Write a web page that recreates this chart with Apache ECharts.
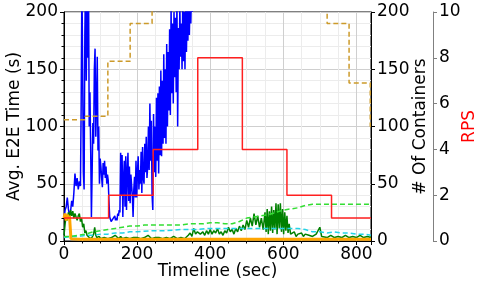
<!DOCTYPE html>
<html><head><meta charset="utf-8">
<script src="https://cdn.jsdelivr.net/npm/echarts@6/dist/echarts.min.js"></script>
<style>html,body{margin:0;padding:0;background:#fff}#c{width:486px;height:290px}</style>
</head><body><div id="c"></div>
<script>
// ---- data ----
const xTicks = [0, 200, 400, 600, 800];
const rpsTime = [0, 122, 244, 366, 488, 610, 732, 840];
const rpsVals = [1, 2, 4, 8, 4, 2, 1, 1];
const contTime = [0, 58, 120, 181, 241, 720, 780, 838, 840];
const contVals = [106, 109, 157, 190, 240, 190, 138, 100, 100];
const blueTime = [0,3,6,9,12,15,18,21,24,27,30,33,36,39,42,45,47,49,51,53,55,57,59,61,63,65,67,69,71,73,75,77,79,81,83,85,87,89,91,93,95,97,99,101,103,105,107,109,111,113,115,117,119,121,123,125,127,129,131,133,135,137,139,141,143,145,147,149,151,153,155,157,159,161,163,165,167,169,171,173,175,177,179,181,183,185,187,189,191,193,195,197,199,201,203,205,207,209,211,213,215,217,219,221,223,225,227,229,231,233,235,237,239,241,243,245,247,249,251,253,255,257,259,261,263,265,267,269,271,273,275,277,279,281,283,285,287,289,291,293,295,297,299,301,303,305,307,309,311,313,315,317,319,321,323,325,327,329,331,333,335,337,339,341,343,345,347,349,351,353,355];
const blueVals = [20,27,30,38,28,22,26,35,30,42,59,48,55,45,52,48,120,230,150,60,45,180,230,140,230,160,230,100,130,80,21,60,103,85,150,168,91,120,161,79,100,50,72,65,55,47,68,58,70,55,65,50,58,53,35,21,19,17,18,16,20,19,22,18,20,18,24,22,27,25,77,40,75,21,55,70,30,74,27,60,77,35,65,33,58,59,40,21,45,56,38,70,38,60,74,45,62,50,78,42,82,55,50,85,60,91,55,65,100,62,120,70,105,40,27,111,60,100,56,125,70,129,59,135,75,149,74,140,85,163,90,150,85,172,100,165,114,185,110,205,129,190,120,200,143,195,130,210,100,186,150,205,161,190,150,210,157,200,150,215,165,205,175,220,180,215,190,225,200,230,240];
const greenTime = [0,3,6,9,12,15,18,21,24,27,30,33,36,39,42,45,48,51,54,57,60,63,66,69,72,75,78,81,84,87,90,93,96,100,110,120,130,140,150,155,160,170,180,190,200,210,220,230,240,250,260,270,280,290,300,310,320,330,340,345,350,355,360,365,373,380,385,390,395,400,405,410,415,420,425,430,435,440,445,450,455,460,465,470,475,480,485,490,495,500,505,510,515,520,525,530,535,540,545,550,553,556,559,562,565,568,571,574,577,580,583,586,589,592,595,598,601,604,607,610,613,616,620,625,630,635,640,645,650,655,660,670,680,690,700,705,710,720,730,740,750,760,770,780,790,800,810,820,830,840];
const greenVals = [5,15,22,18,25,20,27,22,26,20,24,25,18,22,24,17,20,12,15,7,9,5,4,3,4,2,3,6,12,5,3,2,4,2,3,2,3,5,2,4,2,3,2,3,3,2,3,5,2,3,3,2,3,2,4,2,3,2,5,7,4,11,6,8,6,8,5,9,6,10,6,9,7,11,6,8,5,9,7,12,8,10,6,11,8,13,9,14,10,18,12,20,13,24,14,22,12,20,10,25,8,28,6,26,9,30,7,27,10,33,6,32,11,33,8,28,6,25,9,22,7,15,6,5,8,4,6,5,7,4,6,5,4,6,12,4,5,3,5,3,4,3,5,3,4,3,5,3,4,3];
const orangeTime = [0,3,6,9,12,15,18,19,40,100,200,300,400,500,600,700,800,840];
const orangeVals = [20,24,18,23,20,22,21,2,1.5,1.5,1.5,1.5,1.5,1.5,1.5,1.5,1.5,1.5];
const limeTime = [0,20,40,60,80,100,120,140,160,180,200,220,240,260,280,300,320,340,360,380,400,420,440,460,480,500,520,540,560,580,600,620,640,660,680,700,720,740,760,780,800,820,840];
const limeVals = [4,4,5,6,8,9,10,11,12,13,13,14,14,14,14,14,14,15,15,15,16,16,15,15,17,20,21,22,23,25,27,28,29,31,32,32,32,32,32,32,32,32,32];
const cyanTime = [0,20,40,60,80,100,120,140,160,180,200,240,280,320,360,400,440,480,520,560,600,640,660,680,700,720,740,760,780,800,820,840];
const cyanVals = [3,4,4,5,5,6,6,7,7,8,8,9,9,10,10,11,11,11,11,11,11,11,10,8,8,7,8,7,7,6,6,5];

const zip = (a, b) => a.map((t, i) => [t, b[i]]);
const FONT = 'DejaVu Sans';
const chart = echarts.init(document.getElementById('c'));
const tickStyle = {color: '#000', width: 1};
chart.setOption({
  animation: false,
  grid: {left: 64, right: 115, top: 12, bottom: 49, containLabel: false, outerBoundsMode: 'none',
    show: true, borderColor: '#000', borderWidth: 1, backgroundColor: 'transparent'},
  xAxis: {
    type: 'value', min: 0, max: 840, interval: 200,
    name: 'Timeline (sec)', nameLocation: 'middle', nameGap: 22, nameMoveOverlap: false,
    nameTextStyle: {fontFamily: FONT, fontSize: 17, color: '#000'},
    axisLine: {show: true, lineStyle: {color: '#000'}},
    axisTick: {show: true, length: 4, lineStyle: tickStyle},
    minorTick: {show: true, splitNumber: 4, length: 2.5, lineStyle: {color: '#000'}},
    axisLabel: {fontFamily: FONT, fontSize: 17, color: '#000', margin: 5, showMaxLabel: false,
      formatter: v => xTicks.includes(v) ? String(v) : ''},
    splitLine: {show: true, lineStyle: {color: '#cfcfcf', width: 1}},
    minorSplitLine: {show: true, lineStyle: {color: '#ececec', width: 1}}
  },
  yAxis: [
    {
      type: 'value', min: 0, max: 200, interval: 50, position: 'left',
      name: 'Avg. E2E Time (s)', nameLocation: 'middle', nameGap: 41, nameRotate: 90, nameMoveOverlap: false,
      nameTextStyle: {fontFamily: FONT, fontSize: 17, color: '#000'},
      axisLine: {show: true, lineStyle: {color: '#000'}},
      axisTick: {show: true, length: 4, lineStyle: tickStyle},
      minorTick: {show: true, splitNumber: 5, length: 2.5, lineStyle: {color: '#000'}},
      axisLabel: {fontFamily: FONT, fontSize: 17, color: '#000', margin: 6},
      splitLine: {show: true, lineStyle: {color: '#cfcfcf', width: 1}},
      minorSplitLine: {show: true, lineStyle: {color: '#ececec', width: 1}}
    },
    {
      type: 'value', min: 0, max: 200, interval: 50, position: 'right',
      name: '# Of Containers', nameLocation: 'middle', nameGap: 41, nameRotate: 90, nameMoveOverlap: false,
      nameTextStyle: {fontFamily: FONT, fontSize: 17, color: '#000'},
      axisLine: {show: true, lineStyle: {color: '#000'}},
      axisTick: {show: true, length: 4, lineStyle: tickStyle},
      axisLabel: {fontFamily: FONT, fontSize: 17, color: '#000', margin: 6},
      splitLine: {show: false}
    },
    {
      type: 'value', min: 0, max: 10, interval: 2, position: 'right', offset: 62,
      name: 'RPS', nameLocation: 'middle', nameGap: 28, nameRotate: 90, nameMoveOverlap: false,
      nameTextStyle: {fontFamily: FONT, fontSize: 17, color: '#ff0000'},
      axisLine: {show: true, lineStyle: {color: '#808080'}},
      axisTick: {show: true, length: 4, lineStyle: {color: '#808080'}},
      axisLabel: {fontFamily: FONT, fontSize: 17, color: '#000', margin: 6},
      splitLine: {show: false}
    }
  ],
  series: [
    {type: 'line', yAxisIndex: 0, data: zip(blueTime, blueVals), showSymbol: false, lineStyle: {color: '#0000ff', width: 1.5}, z: 2},
    {type: 'line', yAxisIndex: 0, data: zip(greenTime, greenVals), showSymbol: false, lineStyle: {color: '#008000', width: 1.5}, z: 3},
    {type: 'line', yAxisIndex: 0, data: zip(orangeTime, orangeVals), showSymbol: false, lineStyle: {color: '#ffa500', width: 3}, z: 4},
    {type: 'line', yAxisIndex: 1, data: zip(cyanTime, cyanVals), showSymbol: false, lineStyle: {color: '#22d3e6', width: 1.5, type: [5, 3]}, z: 5},
    {type: 'line', yAxisIndex: 1, data: zip(limeTime, limeVals), showSymbol: false, lineStyle: {color: '#33dd33', width: 1.5, type: [5, 3]}, z: 5},
    {type: 'line', yAxisIndex: 1, data: zip(contTime, contVals), step: 'end', showSymbol: false, lineStyle: {color: '#cc9a2a', width: 1.5, type: [5, 3]}, z: 6},
    {type: 'line', yAxisIndex: 2, data: zip(rpsTime, rpsVals), step: 'end', showSymbol: false, lineStyle: {color: '#ff2020', width: 1.5}, z: 7}
  ]
});
</script></body></html>
